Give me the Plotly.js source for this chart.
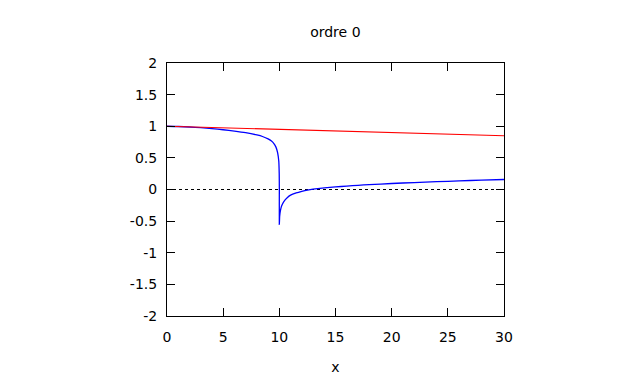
<!DOCTYPE html>
<html>
<head>
<meta charset="utf-8">
<script src="https://cdn.plot.ly/plotly-3.0.1.min.js"></script>
<style>html,body{margin:0;padding:0;background:#fff;}#chart{width:640px;height:384px;}</style>
</head>
<body>
<div id="chart"></div>
<script>
// Blue curve
var blueX = [0, 1, 2, 3, 4, 5, 6, 7, 8, 8.5, 9, 9.3, 9.5, 9.7, 9.85, 9.95, 9.99, 10.0, 10.0, 10.03, 10.1, 10.2, 10.4, 10.7, 11, 11.5, 12, 12.5, 13, 14, 15, 16, 17, 18, 20, 22, 24, 26, 28, 30];
var blueY = [1.0, 0.996, 0.988, 0.977, 0.962, 0.945, 0.924, 0.898, 0.862, 0.838, 0.8, 0.765, 0.73, 0.67, 0.58, 0.45, 0.25, 0.0, -0.55, -0.42, -0.33, -0.26, -0.19, -0.13, -0.09, -0.055, -0.03, -0.01, 0.005, 0.025, 0.04, 0.054, 0.066, 0.077, 0.095, 0.11, 0.124, 0.136, 0.148, 0.158];
// Red line
var redX = [0, 5, 10, 15, 20, 25, 30];
var redY = [1.0, 0.975, 0.95, 0.925, 0.9, 0.875, 0.85];
// Zero reference line
var zeroX = [0, 30];
var zeroY = [0, 0];

var xTicks = [0, 5, 10, 15, 20, 25, 30];
var yTicks = [-2, -1.5, -1, -0.5, 0, 0.5, 1, 1.5, 2];
var yTickText = ['-2', '-1.5', '-1', '-0.5', '0', '0.5', '1', '1.5', '2'];

var font = {family: 'DejaVu Sans, Verdana, sans-serif', size: 14, color: '#000'};

var traces = [
  {x: zeroX, y: zeroY, mode: 'lines', line: {color: '#000', width: 1, dash: 'dot'}, hoverinfo: 'skip'},
  {x: blueX, y: blueY, mode: 'lines', line: {color: '#0000ff', width: 1.3, shape: 'spline', smoothing: 0.6}},
  {x: redX, y: redY, mode: 'lines', line: {color: '#ff0000', width: 1.2}}
];

var layout = {
  width: 640, height: 384,
  margin: {l: 167, r: 136, t: 63, b: 68, pad: 0},
  paper_bgcolor: '#fff', plot_bgcolor: '#fff',
  showlegend: false,
  font: font,
  title: {text: 'ordre 0', font: font, x: 0.524, xanchor: 'center', y: 0.917, yanchor: 'middle'},
  xaxis: {
    range: [0, 30], tickvals: xTicks, ticktext: xTicks.map(String),
    ticks: 'inside', ticklen: 8, tickwidth: 1, tickcolor: '#000',
    showline: true, linecolor: '#000', linewidth: 1, mirror: 'ticks',
    showgrid: false, zeroline: false, tickfont: font,
    ticklabelstandoff: 8,
    title: {text: 'x', font: font, standoff: 18}
  },
  yaxis: {
    range: [-2, 2], tickvals: yTicks, ticktext: yTickText,
    ticks: 'inside', ticklen: 8, tickwidth: 1, tickcolor: '#000',
    showline: true, linecolor: '#000', linewidth: 1, mirror: 'ticks',
    showgrid: false, zeroline: false, tickfont: font,
    ticklabelstandoff: 6
  }
};

Plotly.newPlot('chart', traces, layout, {staticPlot: true, displayModeBar: false});
</script>
</body>
</html>
